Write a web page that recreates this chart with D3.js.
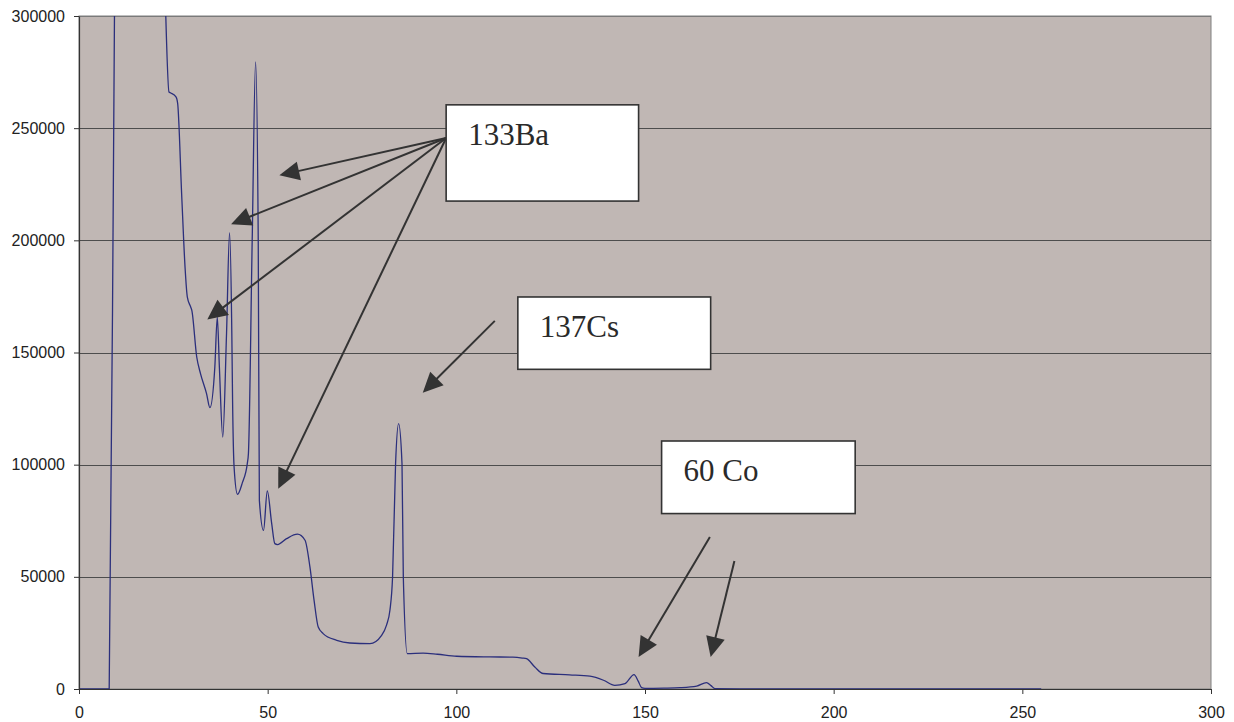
<!DOCTYPE html>
<html>
<head>
<meta charset="utf-8">
<script src="https://cdn.jsdelivr.net/npm/d3@7"></script>
<style>
  html, body { margin: 0; padding: 0; background: #ffffff; }
  svg { display: block; }
</style>
</head>
<body>
<svg id="chart" width="1234" height="722"></svg>
<script>
// Gamma spectrum: counts per channel
const channels = [0, 2, 4, 6, 8, 9.4, 11, 15, 19, 22, 23, 23.85, 24.3, 25.7, 26.15, 27.2, 28.1, 28.7, 29.6, 29.9,
  31.2, 32.2, 33.8, 34.7, 36.0, 36.65, 37.2, 38.1, 39.1, 39.9, 40.5, 40.7, 41.1, 42.0, 43.3, 44.6, 44.9, 45.9,
  46.8, 47.5, 47.8, 48.9, 49.9, 51.07, 51.9, 52.6, 55.0, 57.9, 59.9, 61.2, 62.3, 63.4, 64.7, 68.3, 71.8, 77.1,
  80.2, 81.5, 82.4, 83.1, 83.9, 84.7, 85.6, 85.95, 87.0, 91.2, 95, 100.1, 108.9, 115, 117.5, 118.6, 120.8, 123,
  130, 135.4, 139, 142, 144.7, 147.1, 148.2, 149.1, 150, 155, 159.3, 163.7, 166.3, 167.5, 168.5, 175, 200, 230, 255];
const counts = [0, 0, 0, 0, 0, 300000, 560000, 600000, 520000, 380000, 300000, 266100, 265700, 264000, 261000, 220800, 188100, 174800, 170300, 168800,
  148000, 140600, 131700, 125400, 143600, 165800, 143600, 112300, 158500, 203300, 158500, 128700, 99000, 86800, 92000, 100500, 105000, 200000,
  279500, 200000, 84100, 70700, 88300, 73700, 64800, 64400, 67000, 69000, 66300, 54400, 39500, 27600, 24700, 21700, 20500, 20200,
  23900, 28500, 35100, 49900, 100500, 118300, 100500, 49900, 15800, 16000, 15500, 14600, 14300, 14200, 13800, 13500, 9800, 6900,
  6300, 5700, 3900, 1600, 2400, 6400, 3500, 600, 300, 400, 600, 1300, 2850, 1500, 200, 100, 100, 100, 100];

const xTicks = [0, 50, 100, 150, 200, 250, 300];
const yTicks = [0, 50000, 100000, 150000, 200000, 250000, 300000];

// Callout labels and their boxes (channel / counts units)
const labels = ["133Ba", "137Cs", "60 Co"];
const boxChannelLo = [97.3, 116.3, 154.4];
const boxChannelHi = [148.3, 167.4, 205.7];
const boxCountsHi = [260400, 174750, 110550];
const boxCountsLo = [217500, 142500, 78200];

// Pointer arrows: start and tip (channel / counts units)
const arrowFromChannel = [97.3, 97.3, 97.3, 97.3, 110.2, 167.2, 173.7];
const arrowFromCounts = [245600, 245600, 245600, 245600, 164100, 67760, 57060];
const arrowToChannel = [53.1, 40.3, 34.0, 52.8, 91.1, 148.3, 167.4];
const arrowToCounts = [229000, 207200, 164700, 89300, 132100, 14270, 14270];

const margin = { left: 79, top: 16 };
const width = 1132, height = 673;

const svg = d3.select("#chart");
const g = svg.append("g").attr("transform", `translate(${margin.left},${margin.top})`);

const x = d3.scaleLinear().domain([0, 300]).range([0, width]);
const y = d3.scaleLinear().domain([0, 300000]).range([height, 0]);

// Plot background
g.append("rect")
  .attr("x", 0).attr("y", 0).attr("width", width).attr("height", height)
  .attr("fill", "#c0b7b4").attr("stroke", "#808080").attr("stroke-width", 1);

// Horizontal gridlines
g.append("g").selectAll("line").data(yTicks.filter(d => d > 0)).join("line")
  .attr("x1", 0).attr("x2", width)
  .attr("y1", d => Math.round(y(d)) + 0.5).attr("y2", d => Math.round(y(d)) + 0.5)
  .attr("stroke", d => d === 300000 ? "#7a7a7a" : "#4d4d4d").attr("stroke-width", 1);

// Spectrum line, clipped to the plot area
svg.append("defs").append("clipPath").attr("id", "plotClip")
  .append("rect").attr("x", 0).attr("y", 0).attr("width", width).attr("height", height);

const pts = channels.map((c, i) => [c, counts[i]]);
const line = d3.line().x(d => x(d[0])).y(d => y(d[1])).curve(d3.curveMonotoneX);
g.append("path")
  .attr("clip-path", "url(#plotClip)")
  .attr("d", line(pts))
  .attr("fill", "none").attr("stroke", "#2b2f7c").attr("stroke-width", 1.3)
  .attr("stroke-linejoin", "round");

// Axes
const fontFamily = "'Liberation Sans', Arial, sans-serif";
const xAxis = g.append("g").attr("transform", `translate(0,${height})`)
  .call(d3.axisBottom(x).tickValues(xTicks).tickSizeInner(5).tickSizeOuter(0).tickPadding(13));
const yAxis = g.append("g")
  .call(d3.axisLeft(y).tickValues(yTicks).tickFormat(d3.format("d")).tickSizeInner(5).tickSizeOuter(0).tickPadding(9));
[xAxis, yAxis].forEach(a => {
  a.select(".domain").attr("stroke", "#333333").attr("stroke-width", 1.2);
  a.selectAll(".tick line").attr("stroke", "#333333");
  a.selectAll(".tick text").attr("fill", "#222222").style("font-family", fontFamily).style("font-size", "16px");
});

// Arrows with filled heads
const headLen = 20, headHalf = 9.5;
const arrows = g.append("g");
arrowFromChannel.forEach((c, i) => {
  const x0 = x(c), y0 = y(arrowFromCounts[i]);
  const x1 = x(arrowToChannel[i]), y1 = y(arrowToCounts[i]);
  const dx = x1 - x0, dy = y1 - y0, len = Math.hypot(dx, dy);
  const ux = dx / len, uy = dy / len;
  const bx = x1 - ux * headLen, by = y1 - uy * headLen;
  arrows.append("line")
    .attr("x1", x0).attr("y1", y0).attr("x2", bx + ux * 2).attr("y2", by + uy * 2)
    .attr("stroke", "#333333").attr("stroke-width", 2);
  arrows.append("polygon")
    .attr("points", [[x1, y1], [bx - uy * headHalf, by + ux * headHalf], [bx + uy * headHalf, by - ux * headHalf]]
      .map(p => p.join(",")).join(" "))
    .attr("fill", "#333333");
});

// Callout boxes
const boxes = g.append("g");
labels.forEach((t, i) => {
  const bx = x(boxChannelLo[i]), by = y(boxCountsHi[i]);
  boxes.append("rect")
    .attr("x", bx).attr("y", by)
    .attr("width", x(boxChannelHi[i]) - bx).attr("height", y(boxCountsLo[i]) - by)
    .attr("fill", "#ffffff").attr("stroke", "#333333").attr("stroke-width", 1.6);
  boxes.append("text")
    .attr("x", bx + 22).attr("y", by + 40.5)
    .attr("fill", "#2a2a2a")
    .style("font-family", "'Liberation Serif', 'Times New Roman', serif")
    .style("font-size", "31px")
    .text(t);
});
</script>
</body>
</html>
